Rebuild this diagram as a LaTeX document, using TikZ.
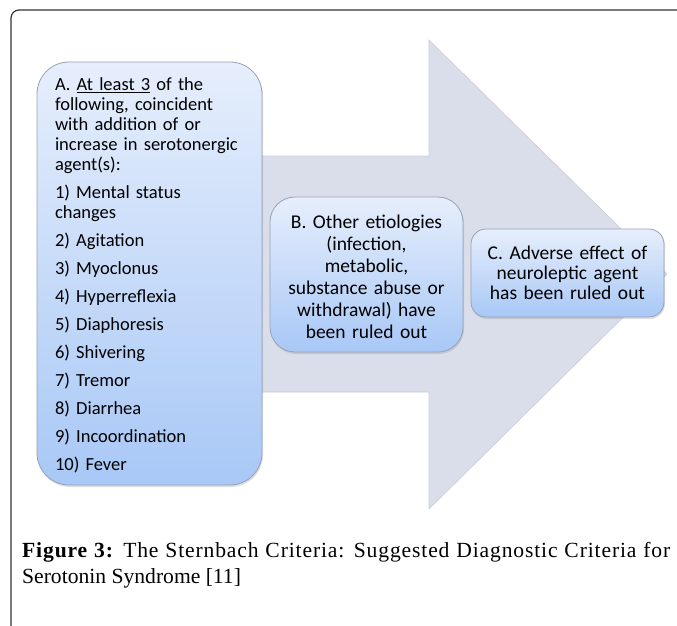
\documentclass[tikz,border=0pt]{standalone}
\usepackage{fontspec}
\setmainfont{Liberation Serif}
\newfontfamily\boxfont{Carlito}
\newfontfamily\capwide{Liberation Serif}[LetterSpace=4]
\usetikzlibrary{shadows}
\definecolor{arrowgray}{HTML}{D9DEEA}
\definecolor{arrowedge}{HTML}{C8CEDB}
\definecolor{boxtop}{HTML}{E6EEFC}
\definecolor{boxbot}{HTML}{A8C8F6}
\definecolor{boxedge}{HTML}{98A2B4}
\definecolor{framecol}{HTML}{333333}
\tikzset{
  critbox/.style={draw=boxedge, line width=0.8pt, top color=boxtop, bottom color=boxbot,
    drop shadow={shadow xshift=1pt, shadow yshift=-2pt, opacity=0.25},
    inner sep=0pt, text=black},
  captext/.style={inner sep=0pt, text width=648pt, align=justify, font=\fontsize{21.6}{26}\selectfont}
}
\begin{document}
\begin{tikzpicture}[x=1pt,y=-1pt]
\useasboundingbox (0,0) rectangle (677,626);
% frame
\draw[framecol, line width=1.2pt, rounded corners=8pt] (677,10) -- (11,10) -- (11,626);
% big arrow
\fill[arrowgray, draw=arrowedge, line width=0.6pt] (150,156) -- (429,156) -- (429,40) -- (667,274) -- (429,509) -- (429,392) -- (150,392) -- cycle;
% box A
\node[critbox, rounded corners=32pt, minimum width=225pt, minimum height=423pt,
      text width=189pt, align=left, font=\boxfont\fontsize{18.5}{20}\selectfont] (A) at (149.5,273.5)
  {\rule{0pt}{17pt}A. \underline{At least 3} of the\\
   following, coincident\\
   with addition of or\\
   increase in serotonergic\\
   agent(s):\\[8pt]
   1) Mental status\\
   changes\\[8pt]
   2) Agitation\\[8pt]
   3) Myoclonus\\[8pt]
   4) Hyperreflexia\\[8pt]
   5) Diaphoresis\\[8pt]
   6) Shivering\\[8pt]
   7) Tremor\\[8pt]
   8) Diarrhea\\[8pt]
   9) Incoordination\\[8pt]
   10) Fever};
% box B
\node[critbox, rounded corners=25pt, minimum width=193pt, minimum height=155pt,
      text width=185pt, align=center, font=\boxfont\fontsize{19.5}{22}\selectfont] (B) at (366.5,274.5)
  {\rule{0pt}{18pt}B. Other etiologies\\ (infection,\\ metabolic,\\ substance abuse or\\ withdrawal) have\\ been ruled out};
% box C
\node[critbox, rounded corners=15pt, minimum width=193pt, minimum height=88pt,
      text width=185pt, align=center, font=\boxfont\fontsize{19.5}{20}\selectfont] (C) at (567.5,273)
  {C. Adverse effect of\\ neuroleptic agent\\ has been ruled out};
% caption
\node[captext, anchor=base west] (cap) at (22,557)
  {{\capwide\textbf{Figure 3:} The Sternbach Criteria: Suggested Diagnostic Criteria for}\linebreak
   Serotonin Syndrome [11]};
\end{tikzpicture}
\end{document}
